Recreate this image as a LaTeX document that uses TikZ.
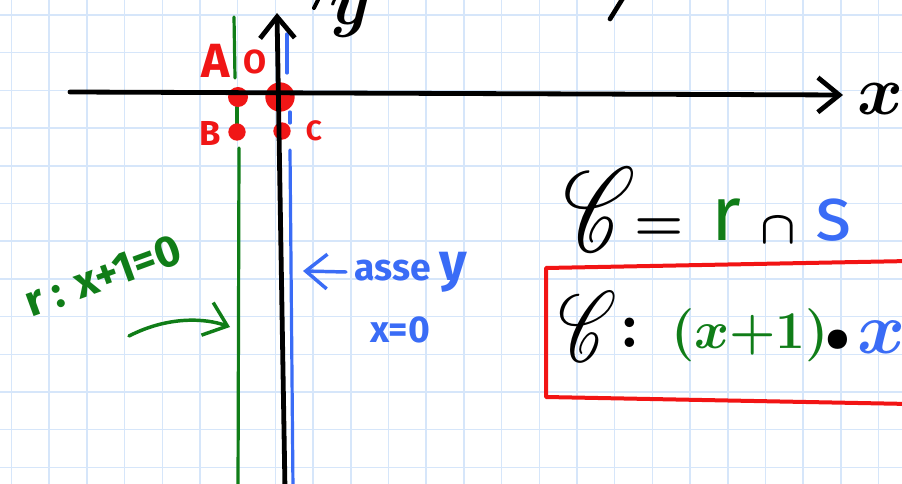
\documentclass[tikz,border=0pt]{standalone}
\usepackage{fontspec}
\setsansfont{Fira Sans}
\usepackage{amsmath}
\usepackage{mathrsfs}
\usetikzlibrary{arrows.meta}
\definecolor{gridline}{RGB}{214,230,250}
\definecolor{line_r}{RGB}{16,125,24}
\definecolor{line_s}{RGB}{58,108,246}
\definecolor{point}{RGB}{240,22,22}
\definecolor{frame}{RGB}{242,20,20}

\tikzset{
  hand/.style={line cap=round, line join=round},
  handtext/.style={font=\sffamily\bfseries, inner sep=0pt},
  mathtext/.style={font=\Huge\boldmath, inner sep=0pt},
  dot/.style={circle, fill=point, inner sep=0pt},
  barb/.style={-{Straight Barb[length=16pt, width=26pt]}, hand}
}

\begin{document}
\begin{tikzpicture}[x=0.75pt, y=-0.75pt]
  \useasboundingbox (0,0) rectangle (902,484);
  \begin{scope}
    \clip (0,0) rectangle (902,484);
    \fill[white] (0,0) rectangle (902,484);
    % grid paper
    \foreach \i in {0,...,23}
      \draw[gridline, line width=1.1pt] ({11.5+37.7*\i},0) -- ({11.5+37.7*\i},484);
    \foreach \j in {0,...,12}
      \draw[gridline, line width=1.1pt] (0,{15+37.7*\j}) -- (902,{15+37.7*\j});

    % lines r and s
    \draw[line_r, line width=2.4pt, hand] (234,17) -- (235,78);
    \draw[line_r, line width=2.4pt, hand] (237,107) -- (237,124);
    \draw[line_r, line width=2.4pt, hand] (239,148) -- (238,490);
    \draw[line_s, line width=2.4pt, hand] (287,34) -- (287,73);
    \draw[line_s, line width=2.4pt, hand] (290,112) -- (290,123);
    \draw[line_s, line width=2.4pt, hand] (290,150) -- (293,490);

    % points
    \node[dot, minimum size=15pt] (A) at (238,97) {};
    \node[dot, minimum size=22pt] (O) at (280,97) {};
    \node[dot, minimum size=13pt] (B) at (237,132) {};
    \node[dot, minimum size=13pt] (C) at (282,131) {};

    % axes
    \coordinate (xtail) at (70,92);
    \coordinate (xhead) at (843,95);
    \coordinate (ytail) at (285,490);
    \coordinate (yhead) at (277,13);
    \draw[line width=3.6pt, barb] (xtail) -- (xhead);
    \draw[line width=3.6pt, barb] (ytail) -- (yhead);
    \node[mathtext, scale=2.1] (xlab) at (880,99) {$x$};
    \node[mathtext, scale=2.0] (ylab) at (350,16) {$y$};
    \draw[line width=3pt, hand] (314,8) -- (318,0);
    \draw[line width=3.5pt, hand] (610,19) -- (623,-2);

    % point labels
    \node[handtext, point, font=\sffamily\bfseries\fontsize{36}{40}\selectfont] (labA) at (216,61) {A};
    \node[handtext, point, font=\sffamily\bfseries\fontsize{25}{30}\selectfont] (labO) at (255,62) {O};
    \node[handtext, point, font=\sffamily\bfseries\fontsize{26}{30}\selectfont] (labB) at (210,133) {B};
    \node[handtext, point, font=\sffamily\bfseries\fontsize{21}{26}\selectfont] (labC) at (314,131) {C};

    % line labels
    \node[handtext, line_r, rotate=20, font=\sffamily\bfseries\fontsize{33}{36}\selectfont] (rlab) at (103,276) {r : x+1=0};
    \coordinate (rtip) at (230,327);
    \draw[line_r, line width=2.6pt, barb] (129,336) .. controls (168,316) and (205,318) .. (rtip);

    \node[handtext, line_s, anchor=west, font=\sffamily\bfseries\fontsize{28}{32}\selectfont] (asse) at (354,272) {asse \fontsize{40}{44}\selectfont y};
    \node[handtext, line_s, font=\sffamily\bfseries\fontsize{28}{32}\selectfont] (seq) at (400,330) {x=0};
    \coordinate (stip) at (303,271);
    \draw[line_s, line width=2.6pt, barb] ([xshift=-6pt]asse.west) -- (stip);

    % intersection
    \node[mathtext, xscale=2.6, yscale=3.6] (C1) at (600,210) {$\mathscr{C}$};
    \node[mathtext, scale=1.7] (eq) at (659,230) {$=$};
    \node[handtext, line_r, font=\sffamily\fontsize{58}{60}\selectfont] (rr) at (726,220) {r};
    \node[mathtext, scale=1.4] (cap) at (778,231) {$\cap$};
    \node[handtext, line_s, font=\sffamily\fontsize{58}{60}\selectfont] (ss) at (834,220) {s};

    % equation of the locus
    \draw[frame, line width=3pt, hand] (546,268) -- (910,261) -- (910,404) -- (546,397) -- cycle;
    \node[mathtext, xscale=2.1, yscale=3.0] (C2) at (588,327) {$\mathscr{C}$};
    \node[mathtext, scale=2.0] (colon) at (630,333) {$:$};
    \node[mathtext, line_r, scale=1.6] (fac) at (750,335) {$(x{+}1)$};
    \node[mathtext, scale=1.3] (prod) at (838,340) {$\bullet$};
    \node[mathtext, line_s, scale=2.2] (xb) at (882,337) {$x$};
  \end{scope}
\end{tikzpicture}
\end{document}
